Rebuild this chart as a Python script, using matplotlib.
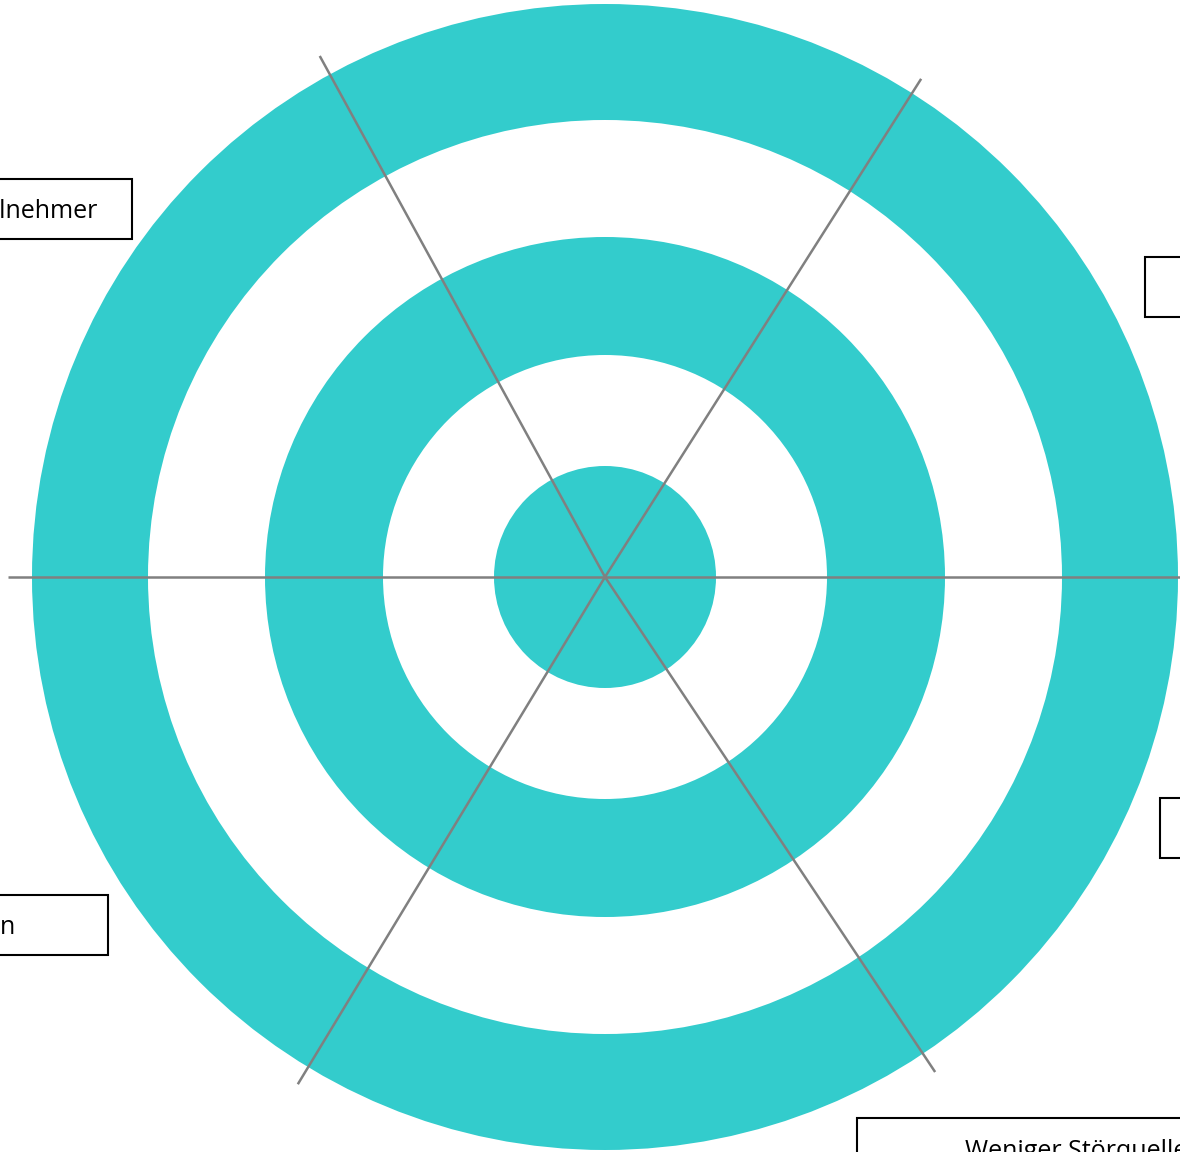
import matplotlib
matplotlib.use('Agg')
from matplotlib import pyplot as plt
from matplotlib.patches import Circle, Rectangle
import numpy as np

# ring radii (pixels), outermost first, alternating teal / white
ring_radii = [573, 457, 340, 222, 111]
ring_colors = ["#33CCCC", "#FFFFFF", "#33CCCC", "#FFFFFF", "#33CCCC"]
center = (605, 577)

# spokes: angle in degrees (counter clockwise from east) and length in pixels
spoke_angles = [0, 57.6, 118.7, 180, 238.8, 303.7]
spoke_lengths = [600, 590, 594, 597, 593, 595]

# category labels (cut off by the picture border, as in the source)
label_texts = ["Teilnehmer", "", "", "Ablenkungen", "Weniger Störquellen"]
label_boxes = [(-200, 179, 332, 60), (1145, 257, 300, 60), (1160, 798, 300, 60),
               (-200, 895, 308, 60), (857, 1118, 500, 60)]
label_pos = [(98, 212, "right"), (0, 0, "left"), (0, 0, "left"),
             (15, 928, "right"), (965, 1151, "left")]

fig = plt.figure(figsize=(11.8, 11.52), dpi=100)
ax = fig.add_axes([0, 0, 1, 1])
ax.set_xlim(0, 1180)
ax.set_ylim(1152, 0)
ax.set_aspect('equal')
ax.axis('off')

for r, c in zip(ring_radii, ring_colors):
    ax.add_patch(Circle(center, r, facecolor=c, edgecolor='none', zorder=1))

for ang, length in zip(spoke_angles, spoke_lengths):
    a = np.radians(ang)
    x2 = center[0] + length * np.cos(a)
    y2 = center[1] - length * np.sin(a)
    ax.plot([center[0], x2], [center[1], y2], color="#808080", linewidth=1.8,
            solid_capstyle='butt', zorder=2)

for (bx, by, bw, bh), txt, (tx, ty, ha) in zip(label_boxes, label_texts, label_pos):
    ax.add_patch(Rectangle((bx, by), bw, bh, facecolor='white', edgecolor='black',
                           linewidth=1.5, zorder=3))
    if txt:
        ax.text(tx, ty, txt, ha=ha, va='center', fontsize=18, family='Open Sans',
                color='black', zorder=4)

fig.savefig("out.png", dpi=100)
